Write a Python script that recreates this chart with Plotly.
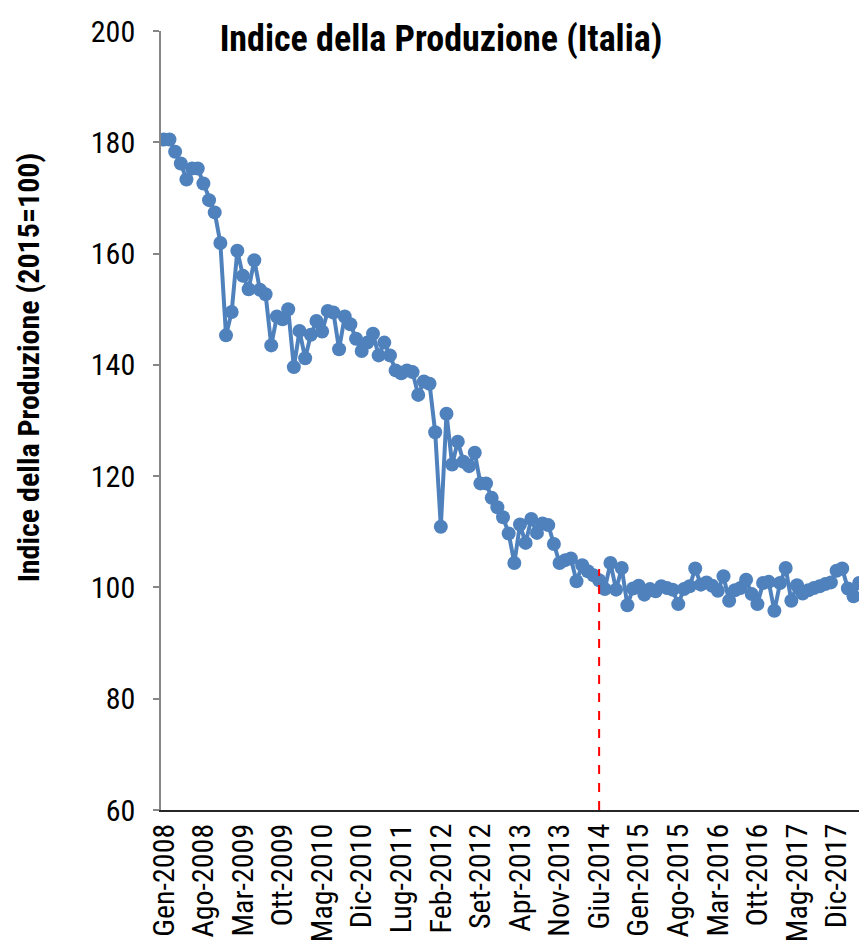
import plotly.graph_objects as go

# Monthly categories Gen-2008 .. Apr-2018
month_names = ["Gen", "Feb", "Mar", "Apr", "Mag", "Giu", "Lug", "Ago", "Set", "Ott", "Nov", "Dic"]
categories = [f"{month_names[m]}-{y}" for y in range(2008, 2019) for m in range(12)][:124]

values = [
    180.5, 180.5, 178.3, 176.2, 173.3, 175.3, 175.3, 172.6, 169.6, 167.4,
    161.9, 145.3, 149.5, 160.5, 156.0, 153.6, 158.8, 153.5, 152.7, 143.5,
    148.7, 148.2, 150.0, 139.6, 146.1, 141.2, 145.4, 147.9, 146.0, 149.7,
    149.4, 142.8, 148.7, 147.3, 144.7, 142.5, 144.0, 145.6, 141.7, 144.0,
    141.7, 139.0, 138.5, 139.0, 138.7, 134.6, 137.0, 136.6, 127.9, 110.9,
    131.2, 122.1, 126.2, 122.6, 121.8, 124.2, 118.7, 118.7, 116.1, 114.4,
    112.6, 109.7, 104.4, 111.3, 108.0, 112.3, 109.8, 111.5, 111.2, 107.8,
    104.4, 104.9, 105.2, 101.1, 104.0, 102.9, 102.2, 101.3, 99.7, 104.4,
    99.6, 103.5, 96.8, 99.8, 100.3, 98.7, 99.7, 99.3, 100.2, 99.9,
    99.6, 97.0, 99.7, 100.2, 103.4, 100.5, 100.9, 100.3, 99.4, 102.0,
    97.6, 99.5, 99.9, 101.4, 98.8, 97.0, 100.8, 101.0, 95.8, 100.8,
    103.5, 97.6, 100.4, 98.9, 99.5, 99.9, 100.2, 100.6, 100.9, 103.0,
    103.4, 99.8, 98.4, 100.8,
]

tick_labels = categories[::7][:18]
y_ticks = [60, 80, 100, 120, 140, 160, 180, 200]

marker_category = "Giu-2014"
marker_line_top = 103.3

FONT = "Liberation Sans Narrow, Arial Narrow, Roboto Condensed, Liberation Sans, Arial, sans-serif"

W, H = 859, 939
L, R, T, B = 153, 5, 19, 137
PW = W - L - R
PH = H - T - B

fig = go.Figure()
fig.add_trace(go.Scatter(
    x=categories, y=values, mode="lines+markers",
    line=dict(color="#4F81BD", width=4),
    marker=dict(color="#4F81BD", size=14),
    showlegend=False,
))

fig.add_shape(type="line", xref="x", yref="y",
              x0=marker_category, x1=marker_category, y0=60, y1=marker_line_top,
              line=dict(color="#FF0000", width=2, dash="dash"), layer="above")

fig.update_layout(
    width=W, height=H,
    margin=dict(l=L, r=R, t=T, b=B),
    plot_bgcolor="white", paper_bgcolor="white",
    font=dict(family=FONT, color="black"),
    title=dict(text="<b>Indice della Produzione (Italia)</b>",
               x=433 / W, xanchor="center", y=1 - 30 / H, yanchor="middle",
               font=dict(size=36, family=FONT, color="black")),
    xaxis=dict(type="category", categoryorder="array", categoryarray=categories,
               range=[-0.5, len(categories) - 0.5],
               tickmode="array", tickvals=tick_labels, ticktext=tick_labels,
               tickangle=-90, tickfont=dict(size=30, family=FONT, color="black"),
               showline=True, linecolor="#262626", linewidth=1.5,
               ticks="", showgrid=False, zeroline=False),
    yaxis=dict(range=[60, 200], tickmode="array", tickvals=y_ticks,
               tickfont=dict(size=30, family=FONT, color="black"),
               showline=True, linecolor="#868686", linewidth=1.5,
               ticks="outside", ticklen=6, tickcolor="#868686", tickwidth=1.5,
               ticklabelstandoff=12,
               showgrid=False, zeroline=False),
)

fig.add_annotation(text="<b>Indice della Produzione (2015=100)</b>",
                   xref="paper", yref="paper",
                   x=(20 - L) / PW, y=(H - B - 358) / PH,
                   xanchor="center", yanchor="middle", textangle=-90,
                   showarrow=False, font=dict(size=30, family=FONT, color="black"))

fig.write_html("out.html")
